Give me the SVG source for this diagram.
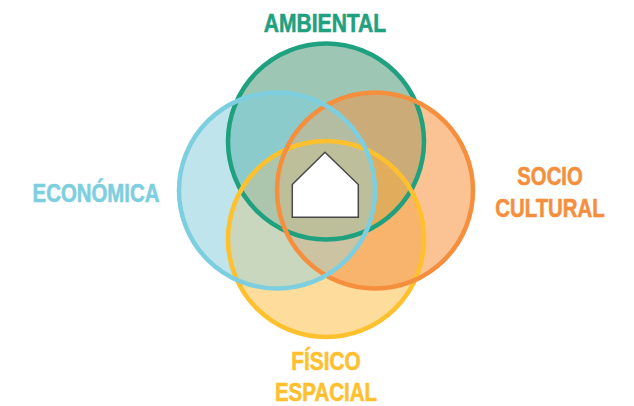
<svg xmlns="http://www.w3.org/2000/svg" width="634" height="406" viewBox="0 0 634 406">
<style>
.r{fill:none;stroke-width:4.500}
.t{font-family:"Liberation Sans",Arial,sans-serif;font-weight:700;font-size:26px;text-anchor:middle;stroke-width:.6}
.ga{fill:#1FA17F;stroke:#1FA17F}
.fe{fill:#FFC02E;stroke:#FFC02E}
.ec{fill:#7DCFDF;stroke:#7DCFDF}
.sc{fill:#F58F3E;stroke:#F58F3E}
</style>
<defs>
<circle id="G" cx="326" cy="141.500" r="98"/>
<circle id="Y" cx="326" cy="239" r="98"/>
<circle id="B" cx="277" cy="190.500" r="98"/>
<circle id="O" cx="375" cy="190.500" r="98"/>
<clipPath id="cG"><use href="#G"/></clipPath>
<clipPath id="cY"><use href="#Y"/></clipPath>
<clipPath id="cB"><use href="#B"/></clipPath>
<clipPath id="cO"><use href="#O"/></clipPath>
</defs>
<rect width="634" height="406" fill="#fff"/>
<g id="overlaps">
<use href="#G" fill="#9DC6B5"/>
<use href="#Y" fill="#FEDC9B"/>
<use href="#B" fill="#BFE4EC"/>
<use href="#O" fill="#FBC394"/>
<g clip-path="url(#cG)"><use href="#B" fill="#8CCBCB"/><use href="#O" fill="#CBAC78"/></g>
<g clip-path="url(#cY)"><use href="#B" fill="#C9D7BF"/><use href="#O" fill="#F8B46C"/></g>
<g clip-path="url(#cB)"><g clip-path="url(#cO)"><use href="#G" fill="#B4BDA1"/><use href="#Y" fill="#CBC3A2"/></g></g>
<g clip-path="url(#cG)"><g clip-path="url(#cY)"><use href="#B" fill="#ABC6AC"/><use href="#O" fill="#E1AC5C"/><g clip-path="url(#cB)"><use href="#O" fill="#BDBF9B"/></g></g></g>
</g>
<g id="ambiental"><use href="#G" class="r" stroke="#1FA17F"/>
<text class="t ga" transform="translate(325 32) scale(.81 1)">AMBIENTAL</text></g>
<g id="fisico"><use href="#Y" class="r" stroke="#FFC02E"/>
<text class="t fe" transform="translate(326 369.500) scale(.8 1)">FÍSICO</text>
<text class="t fe" transform="translate(326 401) scale(.79 1)">ESPACIAL</text></g>
<g id="socio"><use href="#O" class="r" stroke="#F58F3E"/>
<text class="t sc" transform="translate(550 185) scale(.78 1)">SOCIO</text>
<text class="t sc" transform="translate(550 217) scale(.785 1)">CULTURAL</text></g>
<g id="economica"><use href="#B" class="r" stroke="#7DCFDF"/>
<text class="t ec" transform="translate(96 202) scale(.785 1)">ECONÓMICA</text></g>
<g id="casa"><path d="M292.300 184.500L325 152.300L358.300 184.500V217.300H292.300Z" fill="#fff" stroke="#484848" stroke-width="1.500"/></g>
<g id="connectors"/>
</svg>
